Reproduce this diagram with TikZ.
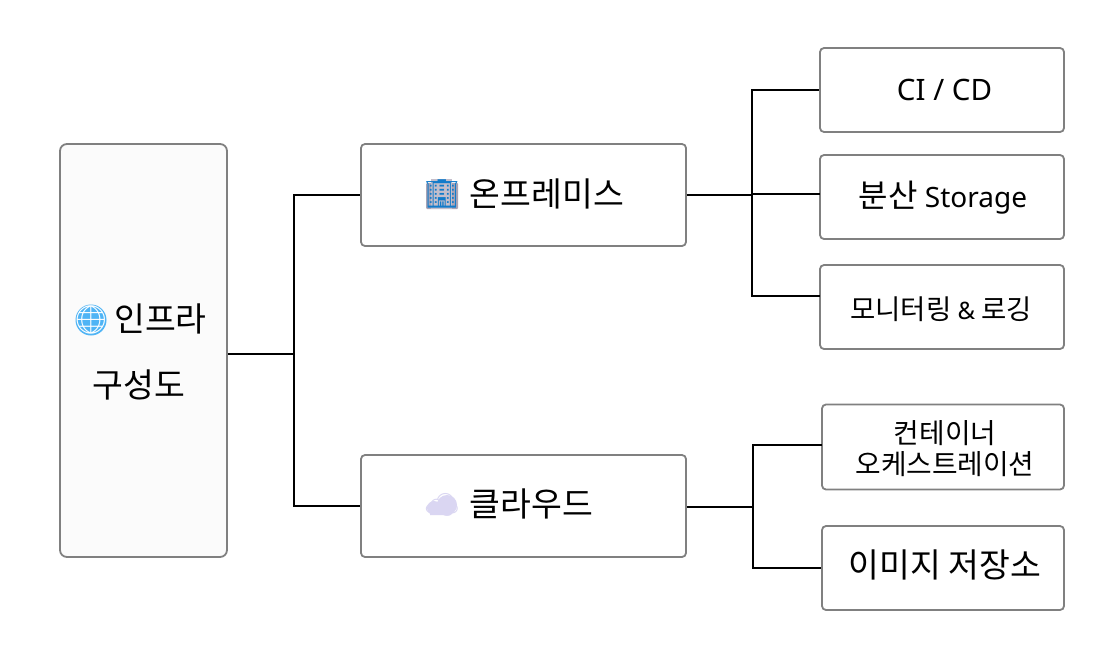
\documentclass[tikz,border=0pt]{standalone}
\usepackage{fontspec}
\setmainfont{Noto Sans CJK KR}
\newfontfamily\emojifont{Noto Emoji}
\newfontfamily\latinfont{Noto Sans}
\usetikzlibrary{positioning}
\definecolor{boxline}{HTML}{808080}
\definecolor{boxfill}{HTML}{FBFBFB}
\definecolor{globeblue}{HTML}{4FB4F5}
\definecolor{towergray}{HTML}{A9A3B5}
\definecolor{cloudtint}{HTML}{DAD6F2}
\tikzset{
  infrabox/.style={draw=boxline,line width=1.8pt,rounded corners=4pt,fill=white,inner sep=0pt,align=center,text=black},
  link/.style={draw=black,line width=1.4pt},
  bigtext/.style={font=\fontsize{33.5}{40}\selectfont,inner sep=0pt},
  smalltext/.style={font=\fontsize{27.8}{31}\selectfont,inner sep=0pt,align=center},
  icon/.style={font=\fontsize{28}{34}\selectfont\emojifont,inner sep=0pt}
}
\begin{document}
\begin{tikzpicture}[x=1pt,y=-1pt]
\useasboundingbox (0,0) rectangle (1110,670);
\node[infrabox,fill=boxfill,rounded corners=7pt,minimum width=167pt,minimum height=413pt] (root) at (143.5,350.5) {};
\node[infrabox,minimum width=325pt,minimum height=102pt] (onprem) at (523.5,195) {};
\node[infrabox,minimum width=325pt,minimum height=102pt] (cloud) at (523.5,506) {};
\node[infrabox,minimum width=244pt,minimum height=84pt] (cicd) at (942,90) {};
\node[infrabox,minimum width=244pt,minimum height=84pt] (storage) at (942,197) {};
\node[infrabox,minimum width=244pt,minimum height=84pt] (monitor) at (942,307) {};
\node[infrabox,minimum width=242pt,minimum height=85pt] (orch) at (943,447) {};
\node[infrabox,minimum width=242pt,minimum height=84pt] (registry) at (943,568) {};

\node[bigtext] (roottop) at (160.5,319) {인프라};
\node[bigtext] (rootbot) at (139,385) {구성도};
\fill[globeblue] (91,320) circle (15.5);
\node[icon,text=white] (globe) at (91,320) {🌐};
\node[bigtext] (onlabel) at (547,194) {온프레미스};
\fill[towergray,rounded corners=1pt] (426,183) rectangle (458,209);
\fill[towergray!70] (431,179) rectangle (452,209);
\node[icon,text=cyan!60!blue] (building) at (442,194) {🏢};
\node[bigtext] (cloudlabel) at (531.5,504) {클라우드};
\fill[cloudtint] (434,508) circle (7) (447,505) circle (10) (430,509) -- (450,515) -- (430,515) -- cycle;
\node[icon,text=cloudtint] (cloudicon) at (442,505) {☁};
\node[font=\fontsize{29.5}{34}\selectfont\latinfont,inner sep=0pt] (cicdlabel) at (944.5,90) {CI / CD};
\node[font=\fontsize{32}{38}\selectfont,inner sep=0pt] (storagelabel) at (943,198) {분산 {\latinfont\fontsize{28}{32}\selectfont Storage}};
\node[font=\fontsize{27.5}{32}\selectfont,inner sep=0pt] (monitorlabel) at (941,309) {모니터링 {\latinfont\fontsize{24}{26}\selectfont \&} 로깅};
\node[smalltext] (orchlabel) at (945,449) {컨테이너\\오케스트레이션};
\node[bigtext] (registrylabel) at (945,565) {이미지 저장소};

\coordinate (rootjoin) at (294,354);
\coordinate (onjoin) at (752,195);
\coordinate (cloudjoin) at (753,507);
\coordinate (storageend) at (820,194);
\coordinate (monitorend) at (820,296);
\coordinate (orchend) at (822,445);
\draw[link] (root.east |- rootjoin) -- (rootjoin);
\draw[link] (rootjoin) |- (onprem.west);
\draw[link] (rootjoin) |- (cloud.west);
\draw[link] (onprem.east) -- (onjoin);
\draw[link] (onjoin) |- (cicd.west);
\draw[link] (onjoin |- storageend) -- (storageend);
\draw[link] (onjoin) |- (monitorend);
\draw[link] (cloud.east |- cloudjoin) -- (cloudjoin);
\draw[link] (cloudjoin) |- (orchend);
\draw[link] (cloudjoin) |- (registry.west);
\end{tikzpicture}
\end{document}
